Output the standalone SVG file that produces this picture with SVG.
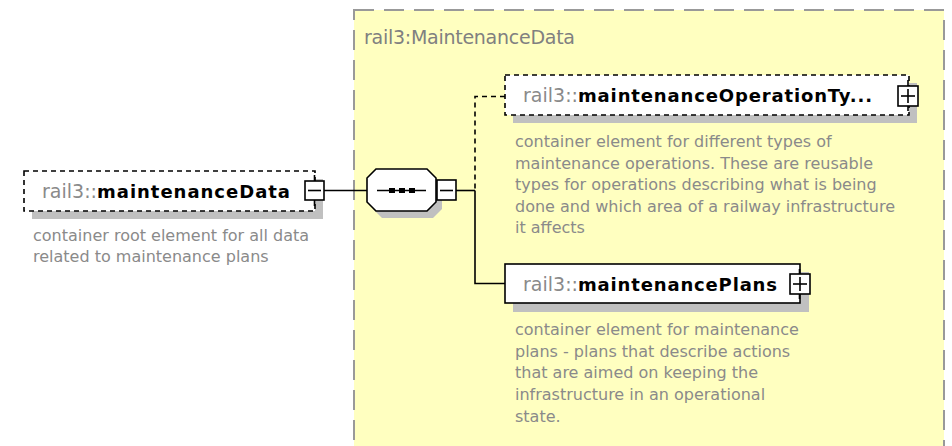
<svg xmlns="http://www.w3.org/2000/svg" width="952" height="446" viewBox="0 0 952 446">
<style>
.ttl{font-family:"DejaVu Sans","Liberation Sans",sans-serif;font-size:19px;fill:#808080}
.pre{font-family:"DejaVu Sans","Liberation Sans",sans-serif;font-size:19px;fill:#8a8a8a}
.nm{font-family:"DejaVu Sans","Liberation Sans",sans-serif;font-size:18px;font-weight:bold;fill:#000}
.desc{font-family:"DejaVu Sans","Liberation Sans",sans-serif;font-size:16px;fill:#8a8a8a}
.box{fill:#fff;stroke:#000;stroke-width:1.6}
.dbox{fill:#fff;stroke:#000;stroke-width:1.6;stroke-dasharray:5 4}
.shadow{fill:#c0c0c0}
.ln{fill:none;stroke:#000;stroke-width:1.6}
.dln{fill:none;stroke:#000;stroke-width:1.6;stroke-dasharray:5 4}
.btn{fill:#fff;stroke:#000;stroke-width:1.6}
</style>
<rect width="952" height="446" fill="#fff"/>
<g id="type-MaintenanceData">
<rect x="354" y="10" width="590" height="450" fill="#ffffc0" stroke="#999" stroke-width="2" stroke-dasharray="20 10"/>
<text class="ttl" x="364" y="44" textLength="211">rail3:MaintenanceData</text>
</g>
<g id="connectors">
<line class="ln" x1="324" y1="190.5" x2="367" y2="190.5"/>
<line class="ln" x1="456" y1="190.5" x2="475" y2="190.5"/>
<polyline class="dln" points="505,96.5 475,96.5 475,190.5"/>
<polyline class="ln" points="475,190.5 475,283.5 505,283.5"/>
</g>
<g id="maintenanceData">
<rect class="shadow" x="32" y="179" width="291" height="40"/>
<rect class="dbox" x="24" y="171" width="291" height="40"/>
<text class="pre" x="42" y="198" textLength="55">rail3::</text>
<text class="nm" x="97" y="198" textLength="193">maintenanceData</text>
<line class="ln" x1="314.5" y1="175" x2="314.5" y2="206"/>
<rect class="btn" x="305" y="181" width="19" height="19"/>
<line class="ln" x1="308" y1="190.5" x2="321" y2="190.5"/>
<text class="desc" x="33" y="241">container root element for all data</text>
<text class="desc" x="33" y="262">related to maintenance plans</text>
</g>
<g id="sequence">
<polygon class="shadow" points="382,176 433,176 442,185 442,209 433,218 382,218 373,209 373,185"/>
<polygon class="box" points="376,169 427,169 436,178 436,202 427,211 376,211 367,202 367,178"/>
<line class="ln" x1="377" y1="190.5" x2="426" y2="190.5"/>
<rect x="389" y="188" width="6" height="5" fill="#000"/>
<rect x="399" y="188" width="6" height="5" fill="#000"/>
<rect x="409" y="188" width="6" height="5" fill="#000"/>
<rect class="btn" x="437" y="180" width="19" height="20"/>
<line class="ln" x1="440" y1="190.5" x2="453" y2="190.5"/>
</g>
<g id="maintenanceOperationTypes">
<rect class="shadow" x="513" y="83" width="404" height="40"/>
<rect class="dbox" x="505" y="75" width="404" height="40"/>
<text class="pre" x="523" y="102" textLength="55">rail3::</text>
<text class="nm" x="578" y="102" textLength="294">maintenanceOperationTy...</text>
<line class="ln" x1="908" y1="80" x2="908" y2="111"/>
<rect class="btn" x="898" y="86" width="20" height="20"/>
<line class="ln" x1="901" y1="96" x2="915" y2="96"/>
<line class="ln" x1="908" y1="89" x2="908" y2="103"/>
<text class="desc" x="515" y="147">container element for different types of</text>
<text class="desc" x="515" y="168.5">maintenance operations. These are reusable</text>
<text class="desc" x="515" y="190">types for operations describing what is being</text>
<text class="desc" x="515" y="211.5">done and which area of a railway infrastructure</text>
<text class="desc" x="515" y="233">it affects</text>
</g>
<g id="maintenancePlans">
<rect class="shadow" x="513" y="272" width="296" height="40"/>
<rect class="box" x="505" y="264" width="295" height="39"/>
<text class="pre" x="523" y="291" textLength="55">rail3::</text>
<text class="nm" x="578" y="291" textLength="199">maintenancePlans</text>
<line class="ln" x1="799.5" y1="269" x2="799.5" y2="299"/>
<rect class="btn" x="790" y="274" width="20" height="20"/>
<line class="ln" x1="793" y1="284" x2="807" y2="284"/>
<line class="ln" x1="800" y1="277" x2="800" y2="291"/>
<text class="desc" x="515" y="335">container element for maintenance</text>
<text class="desc" x="515" y="356.5">plans - plans that describe actions</text>
<text class="desc" x="515" y="378">that are aimed on keeping the</text>
<text class="desc" x="515" y="400">infrastructure in an operational</text>
<text class="desc" x="515" y="422">state.</text>
</g>
</svg>
